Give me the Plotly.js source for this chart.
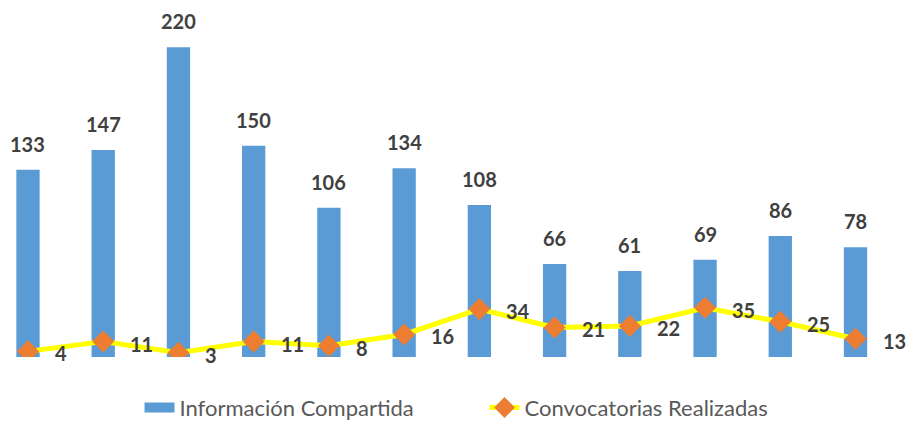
<!DOCTYPE html>
<html>
<head>
<meta charset="utf-8">
<script src="https://cdn.plot.ly/plotly-3.0.1.min.js"></script>
<style>html,body{margin:0;padding:0;background:#fff;}#chart{width:906px;height:421px;}</style>
</head>
<body>
<div id="chart"></div>
<script>
const categories = ['1','2','3','4','5','6','7','8','9','10','11','12'];
const informacionCompartida = [133,147,220,150,106,134,108,66,61,69,86,78];
const convocatoriasRealizadas = [4,11,3,11,8,16,34,21,22,35,25,13];
const seriesNames = ['Información Compartida','Convocatorias Realizadas'];

const labelFont = {family:'Lato, "Liberation Sans", sans-serif', size:20, color:'#404040', weight:700};

const traces = [
  {type:'bar', x:categories, y:informacionCompartida, name:seriesNames[0], showlegend:false,
   marker:{color:'#5B9BD5'}, width:0.31, hoverinfo:'none'},
  // legend-only entry for the bar series (wide rectangle swatch)
  {type:'scatter', mode:'lines', x:[null], y:[null], name:seriesNames[0],
   line:{color:'#5B9BD5', width:14}, hoverinfo:'none'},
  {type:'scatter', mode:'lines+markers', x:categories, y:convocatoriasRealizadas, name:seriesNames[1],
   line:{color:'#FFFF00', width:5}, marker:{symbol:'diamond', color:'#ED7D31', size:17}, hoverinfo:'none'}
];

const annotations = [];
categories.forEach((c,i)=>{
  annotations.push({x:i, y:informacionCompartida[i], text:'<b>'+informacionCompartida[i]+'</b>', showarrow:false,
    yanchor:'bottom', yshift:12, font:labelFont});
  annotations.push({x:i, y:convocatoriasRealizadas[i], text:'<b>'+convocatoriasRealizadas[i]+'</b>', showarrow:false,
    xanchor:'left', yanchor:'middle', xshift:25, yshift:-2, font:labelFont});
});

const layout = {
  width:906, height:421,
  margin:{l:0, r:0, t:0, b:63.5, autoexpand:false},
  paper_bgcolor:'#fff', plot_bgcolor:'#fff',
  showlegend:true,
  legend:{orientation:'h', x:0.154, xanchor:'left', y:-0.142, yanchor:'middle', entrywidth:300,
    font:{family:'Lato, "Liberation Sans", sans-serif', size:22, color:'#595959'}, traceorder:'normal'},
  xaxis:{type:'category', range:[-0.372, 11.671], showticklabels:false, showgrid:false, zeroline:false, showline:false, ticks:''},
  yaxis:{range:[0, 253.5], showticklabels:false, showgrid:false, zeroline:false, showline:false, ticks:''},
  annotations:annotations
};

Plotly.newPlot('chart', traces, layout, {displayModeBar:false, staticPlot:true});
</script>
</body>
</html>
